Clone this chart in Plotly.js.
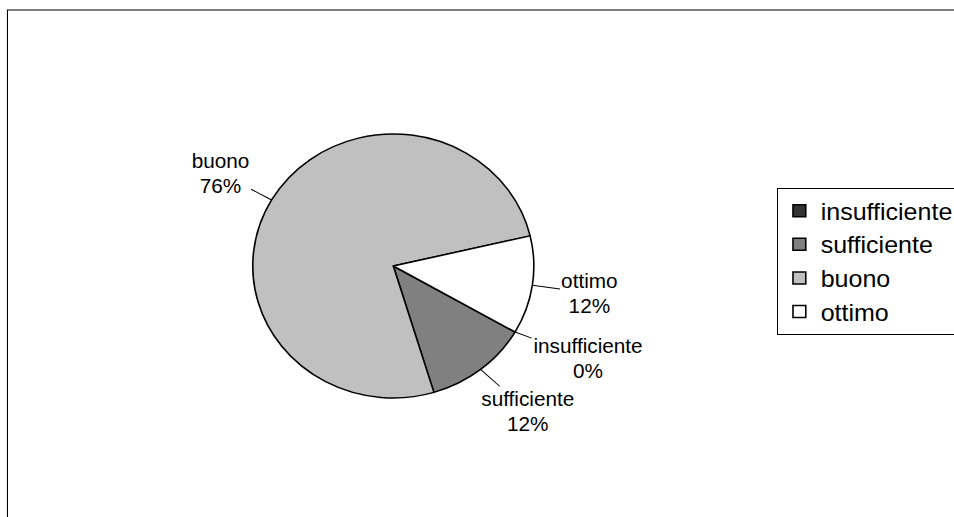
<!DOCTYPE html>
<html>
<head>
<meta charset="utf-8">
<script src="https://cdn.plot.ly/plotly-3.0.1.min.js"></script>
<style>
  html, body { margin: 0; padding: 0; background: #ffffff; overflow: hidden; width: 954px; height: 517px; }
  #chart { width: 896px; height: 517px; transform: scaleX(1.0647); transform-origin: 0 0; }
</style>
</head>
<body>
<div id="chart"></div>
<script>
// ---- data ----
const categories = ['insufficiente', 'sufficiente', 'buono', 'ottimo'];
const counts = [0, 3, 19, 3];
const sliceColors = ['#333333', '#808080', '#C0C0C0', '#FFFFFF'];

// ---- geometry / style ----
const W = 896, H = 517;
const PIE_CX = 369.4, PIE_CY = 266, PIE_R = 132;
const ROTATION = 120;
const FONT = 'Liberation Sans, Arial, sans-serif';
const LABEL_SIZE = 19.5;
const LABEL_GAP = 28;

const total = counts.reduce((a, b) => a + b, 0);
const pctText = counts.map(v => Math.round(v / total * 100) + '%');

// measure label width for outside placement
const ctx = document.createElement('canvas').getContext('2d');
ctx.font = LABEL_SIZE + 'px "Liberation Sans"';

const annotations = [];
let start = ROTATION;
counts.forEach((v, i) => {
  const span = v / total * 360;
  const mid = (start + span / 2) * Math.PI / 180;
  start += span;
  const sx = Math.sin(mid), sy = -Math.cos(mid);
  const hx = PIE_CX + PIE_R * sx, hy = PIE_CY + PIE_R * sy;
  const lines = [categories[i], pctText[i]];
  const hw = Math.max(...lines.map(t => ctx.measureText(t).width)) / 2;
  const hh = lines.length * LABEL_SIZE * 1.3 / 2;
  annotations.push({
    xref: 'paper', yref: 'paper',
    x: hx / W, y: 1 - hy / H,
    ax: sx * (LABEL_GAP + hw), ay: sy * (LABEL_GAP + hh),
    axref: 'pixel', ayref: 'pixel',
    text: lines.join('<br>'),
    showarrow: true, arrowhead: 0, arrowwidth: 1, arrowcolor: '#000000', standoff: 0,
    font: { family: FONT, size: LABEL_SIZE, color: '#000000' },
    align: 'center'
  });
});

const trace = {
  type: 'pie',
  labels: categories,
  values: counts,
  sort: false,
  direction: 'clockwise',
  rotation: ROTATION,
  textinfo: 'none',
  hoverinfo: 'none',
  marker: { colors: sliceColors, line: { color: '#000000', width: 1.5 } },
  domain: {
    x: [(PIE_CX - PIE_R) / W, (PIE_CX + PIE_R) / W],
    y: [1 - (PIE_CY + PIE_R) / H, 1 - (PIE_CY - PIE_R) / H]
  }
};

const layout = {
  width: W, height: H,
  margin: { l: 0, r: 0, t: 0, b: 0, autoexpand: false },
  paper_bgcolor: '#ffffff',
  font: { family: FONT, color: '#000000' },
  showlegend: true,
  legend: {
    x: 729.8 / W, xanchor: 'left',
    y: 1 - 188 / H, yanchor: 'top',
    bgcolor: '#ffffff', bordercolor: '#000000', borderwidth: 1,
    font: { family: FONT, size: 23.5, color: '#000000' },
    itemwidth: 30
  },
  shapes: [{
    type: 'rect', xref: 'paper', yref: 'paper',
    x0: 7 / W, x1: 1.1, y0: -0.1, y1: 1 - 10 / H,
    line: { color: '#000000', width: 1 }
  }],
  annotations: annotations
};

Plotly.newPlot('chart', [trace], layout, { staticPlot: true, displayModeBar: false });
</script>
</body>
</html>
